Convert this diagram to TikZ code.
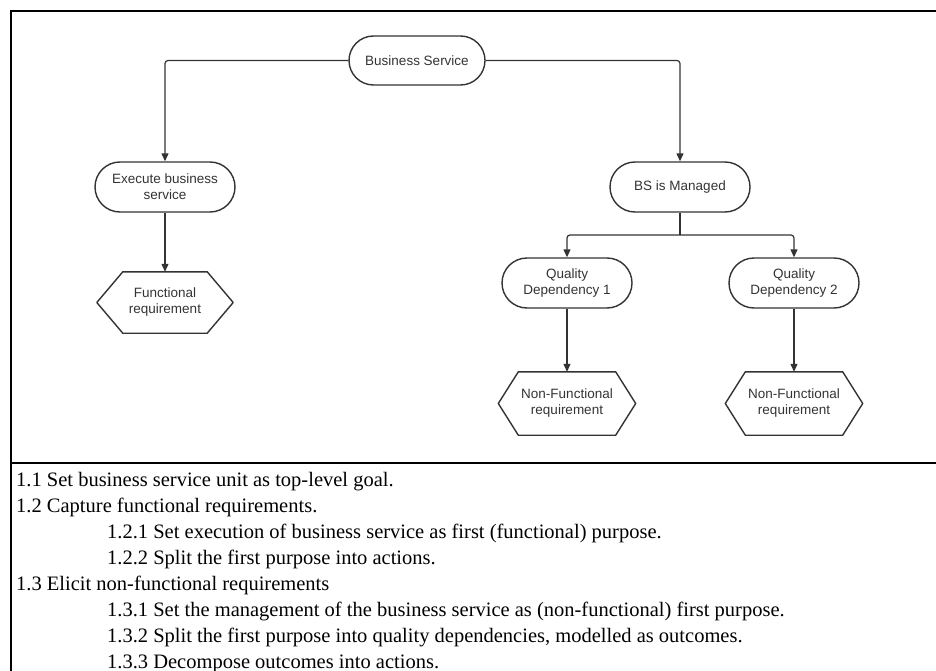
\documentclass[tikz,border=0pt]{standalone}
\usepackage{fontspec}
\setmainfont{Liberation Serif}
\setsansfont{Liberation Sans}
\usetikzlibrary{arrows.meta}
\definecolor{ink}{HTML}{333333}
\begin{document}
\begin{tikzpicture}[x=1pt,y=-1pt,
  nodefont/.style={font=\sffamily\fontsize{13.5}{16}\selectfont, text=ink},
  stadium/.style={nodefont, draw=ink, line width=1.4pt, rounded corners=25pt, minimum height=50pt, align=center, inner sep=0pt},
  hexnode/.style={nodefont, minimum height=63pt, minimum width=137pt, align=center, inner sep=0pt},
  hexline/.style={draw=ink, line width=1.4pt, line join=round},
  conn/.style={draw=ink, line width=1.2pt, rounded corners=3pt, -{Triangle[length=8pt,width=7pt]}},
  plainconn/.style={draw=ink, line width=1.2pt, rounded corners=3pt},
  framerule/.style={draw=black, line width=2pt},
  body/.style={anchor=base west, inner sep=0pt, font=\fontsize{20.5}{26}\selectfont, text=black}
]
\useasboundingbox (0,0) rectangle (936,671);

% frame
\draw[framerule] (936,11) -- (11,11) -- (11,671);
\draw[framerule] (11,463) -- (936,463);

% nodes
\node[stadium, minimum width=136pt, minimum height=49pt, rounded corners=24.5pt] (bs) at (417,60.5) {Business Service};
\node[stadium, minimum width=140pt] (exe) at (165,187) {Execute business\\service};
\node[stadium, minimum width=140pt] (bsm) at (680,187) {BS is Managed};
\node[stadium, minimum width=130pt] (q1) at (567,283) {Quality\\Dependency 1};
\node[stadium, minimum width=130pt] (q2) at (794,283) {Quality\\Dependency 2};
\node[hexnode, minimum width=136pt, minimum height=61pt] (fr) at (165,302.5) {Functional\\requirement};
\node[hexnode] (nf1) at (567,403.5) {Non-Functional\\requirement};
\node[hexnode] (nf2) at (794,403.5) {Non-Functional\\requirement};

% hexagon outlines
\draw[hexline] (fr.west) -- ([xshift=26pt]fr.north west) -- ([xshift=-26pt]fr.north east) -- (fr.east) -- ([xshift=-26pt]fr.south east) -- ([xshift=26pt]fr.south west) -- cycle;
\foreach \n in {nf1,nf2}{
  \draw[hexline] (\n.west) -- ([xshift=20pt]\n.north west) -- ([xshift=-20pt]\n.north east) -- (\n.east) -- ([xshift=-20pt]\n.south east) -- ([xshift=20pt]\n.south west) -- cycle;
}

% connectors
\coordinate (jn) at (680,235);
\draw[conn] (bs.west) -| (exe.north);
\draw[conn] (bs.east) -| (bsm.north);
\draw[plainconn] (bsm.south) -- (jn);
\draw[conn] (jn) -| (q1.north);
\draw[conn] (jn) -| (q2.north);
\draw[conn] (exe.south) -- (fr.north);
\draw[conn] (q1.south) -- (nf1.north);
\draw[conn] (q2.south) -- (nf2.north);

% text
\node[body] (t1) at (16,486) {1.1 Set business service unit as top-level goal.};
\node[body] (t2) at (16,512) {1.2 Capture functional requirements.};
\node[body] (t3) at (107,538) {1.2.1 Set execution of business service as first (functional) purpose.};
\node[body] (t4) at (107,564) {1.2.2 Split the first purpose into actions.};
\node[body] (t5) at (16,590) {1.3 Elicit non-functional requirements};
\node[body] (t6) at (107,616) {1.3.1 Set the management of the business service as (non-functional) first purpose.};
\node[body] (t7) at (107,642) {1.3.2 Split the first purpose into quality dependencies, modelled as outcomes.};
\node[body] (t8) at (107,668) {1.3.3 Decompose outcomes into actions.};
\end{tikzpicture}
\end{document}
